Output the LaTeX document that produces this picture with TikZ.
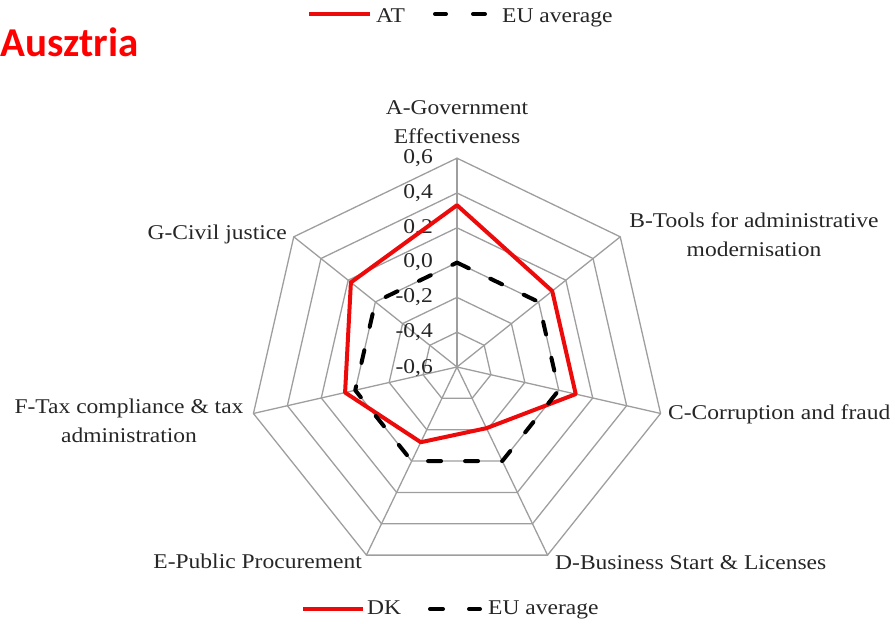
\documentclass[tikz,border=0pt]{standalone}
\usepackage{fontspec}
\setmainfont{Liberation Serif}[FakeStretch=1.12]
\newfontfamily\titlefont{Carlito}
\definecolor{ffqqqq}{rgb}{1.0,0.0,0.0}
\definecolor{eeqqqq}{rgb}{0.93,0.04,0.04}
\definecolor{zzzzzz}{rgb}{0.62,0.62,0.62}
\definecolor{tttttt}{rgb}{0.15,0.15,0.15}

\begin{document}
\begin{tikzpicture}[line cap=round,line join=round,x=1.0pt,y=1.0pt,
  gridline/.style={color=zzzzzz,line width=1.3pt},
  atline/.style={color=eeqqqq,line width=4pt},
  euline/.style={color=black,line width=4pt,dash pattern=on 13pt off 24pt},
  lbl/.style={text=tttttt,font=\fontsize{21}{29}\selectfont,inner sep=0pt}]
\useasboundingbox (0,0) rectangle (895,624);
\node[anchor=base west,text=ffqqqq,font=\titlefont\bfseries\fontsize{41}{45}\selectfont,inner sep=0pt] (title) at (0,567) {Ausztria};
% legend top
\coordinate (atl1) at (309,610);
\coordinate (atl2) at (370,610);
\draw [atline,line cap=butt] (atl1) -- (atl2);
\node[lbl,anchor=base west] (legat) at (376,601) {AT};
\draw [color=black,line width=4pt] (435,610) -- (446,610);
\draw [color=black,line width=4pt] (473,610) -- (485,610);
\node[lbl,anchor=base west] (legeu1) at (502,601) {EU average};
% legend bottom
\coordinate (dkl1) at (303,15);
\coordinate (dkl2) at (363,15);
\draw [atline,line cap=butt] (dkl1) -- (dkl2);
\node[lbl,anchor=base west] (legdk) at (367,9.7) {DK};
\draw [color=black,line width=4pt] (430,15) -- (443,15);
\draw [color=black,line width=4pt] (469,15) -- (480,15);
\node[lbl,anchor=base west] (legeu2) at (488,9.7) {EU average};
\begin{scope}[shift={(457,257)}]
\coordinate (o) at (0,0);
% rings
\draw [gridline] (90:34.8) -- (38.57:34.8) -- (-12.86:34.8) -- (-64.29:34.8) -- (-115.71:34.8) -- (-167.14:34.8) -- (141.43:34.8) -- cycle;
\draw [gridline] (90:69.6) -- (38.57:69.6) -- (-12.86:69.6) -- (-64.29:69.6) -- (-115.71:69.6) -- (-167.14:69.6) -- (141.43:69.6) -- cycle;
\draw [gridline] (90:104.4) -- (38.57:104.4) -- (-12.86:104.4) -- (-64.29:104.4) -- (-115.71:104.4) -- (-167.14:104.4) -- (141.43:104.4) -- cycle;
\draw [gridline] (90:139.2) -- (38.57:139.2) -- (-12.86:139.2) -- (-64.29:139.2) -- (-115.71:139.2) -- (-167.14:139.2) -- (141.43:139.2) -- cycle;
\draw [gridline] (90:174) -- (38.57:174) -- (-12.86:174) -- (-64.29:174) -- (-115.71:174) -- (-167.14:174) -- (141.43:174) -- cycle;
\draw [gridline] (90:208.8) -- (38.57:208.8) -- (-12.86:208.8) -- (-64.29:208.8) -- (-115.71:208.8) -- (-167.14:208.8) -- (141.43:208.8) -- cycle;
% spokes
\coordinate (va) at (90:208.8);
\coordinate (vb) at (38.57:208.8);
\coordinate (vc) at (-12.86:208.8);
\coordinate (vd) at (-64.29:208.8);
\coordinate (ve) at (-115.71:208.8);
\coordinate (vf) at (-167.14:208.8);
\coordinate (vg) at (141.43:208.8);
\draw [gridline] (o) -- (va);
\draw [gridline] (o) -- (vb);
\draw [gridline] (o) -- (vc);
\draw [gridline] (o) -- (vd);
\draw [gridline] (o) -- (ve);
\draw [gridline] (o) -- (vf);
\draw [gridline] (o) -- (vg);
% scale
\node[lbl,anchor=east] (t1) at (-24,208.8) {0,6};
\node[lbl,anchor=east] (t2) at (-24,174) {0,4};
\node[lbl,anchor=east] (t3) at (-24,139.2) {0,2};
\node[lbl,anchor=east] (t4) at (-24,104.4) {0,0};
\node[lbl,anchor=east] (t5) at (-24,69.6) {-0,2};
\node[lbl,anchor=east] (t6) at (-24,34.8) {-0,4};
\node[lbl,anchor=east] (t7) at (-24,-1) {-0,6};
% series
\draw [atline] (90:161.8) -- (38.57:121.8) -- (-12.86:121.8) -- (-64.29:67.9) -- (-115.71:83.5) -- (-167.14:114.8) -- (141.43:135.7) -- cycle;
\draw [euline] (90:104.4) -- (38.57:104.4) -- (-12.86:104.4) -- (-64.29:104.4) -- (-115.71:104.4) -- (-167.14:104.4) -- (141.43:104.4) -- cycle;
\end{scope}
% axis labels
\node[lbl,align=center] (labA) at (457,502) {A-Government\\Effectiveness};
\node[lbl,align=center] (labB) at (754,389.5) {B-Tools for administrative\\modernisation};
\node[lbl,anchor=base west] (labC) at (668,204) {C-Corruption and fraud};
\node[lbl,anchor=base west] (labD) at (555,54.7) {D-Business Start \& Licenses};
\node[lbl,anchor=base east] (labE) at (362,55.7) {E-Public Procurement};
\node[lbl,align=center] (labF) at (129,203) {F-Tax compliance \& tax\\administration};
\node[lbl,anchor=base east] (labG) at (287,384) {G-Civil justice};
\end{tikzpicture}
\end{document}
